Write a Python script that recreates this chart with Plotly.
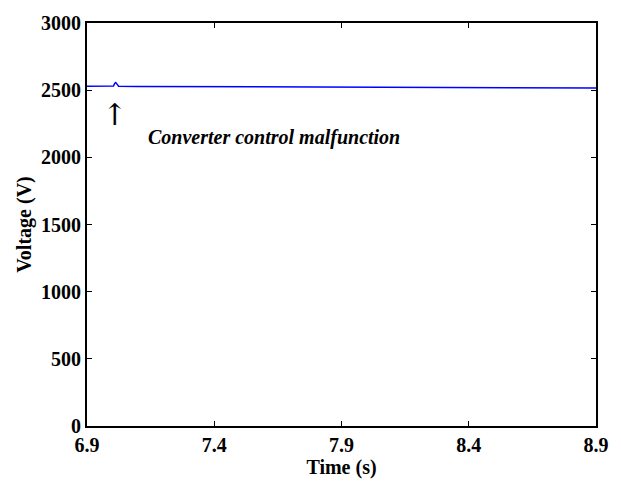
import plotly.graph_objects as go

time_s = [6.9, 7.0, 7.004, 7.009, 7.013, 7.018, 7.024, 7.1, 7.5, 7.9, 8.3, 8.6, 8.9]
voltage_v = [2529, 2529, 2531, 2550, 2557, 2545, 2530, 2528, 2526, 2524, 2521, 2519, 2516]

x_ticks = [6.9, 7.4, 7.9, 8.4, 8.9]
y_ticks = [0, 500, 1000, 1500, 2000, 2500, 3000]

FONT = "Liberation Serif, Times New Roman, serif"

fig = go.Figure()
fig.add_trace(go.Scatter(x=time_s, y=voltage_v, mode="lines",
                         line=dict(color="#0000ff", width=1.5), showlegend=False))

axis_common = dict(showgrid=False, zeroline=False, showline=True, linecolor="black",
                   linewidth=2, mirror="ticks", ticks="inside", ticklen=5,
                   tickwidth=1, tickcolor="black",
                   tickfont=dict(family=FONT, size=20, color="black", weight="bold"))

fig.update_xaxes(range=[6.9, 8.9], tickvals=x_ticks, ticktext=[str(v) for v in x_ticks],
                 title=dict(text="Time (s)", font=dict(family=FONT, size=20, color="black",
                                                       weight="bold"),
                            standoff=0),
                 **axis_common)
fig.update_yaxes(range=[0, 3000], tickvals=y_ticks, ticktext=[str(v) for v in y_ticks],
                 title=dict(text="Voltage (V)", font=dict(family=FONT, size=20, color="black",
                                                          weight="bold"),
                            standoff=4),
                 **axis_common)

fig.add_annotation(x=7.008, y=2320, text="↑", showarrow=False,
                   font=dict(family="DejaVu Serif", size=30, color="black"))
fig.add_annotation(x=7.633, y=2149, text="<i>Converter control malfunction</i>",
                   showarrow=False,
                   font=dict(family=FONT, size=20, color="black", weight="bold"))

fig.update_layout(width=621, height=482, plot_bgcolor="white", paper_bgcolor="white",
                  margin=dict(l=87, r=14, t=19, b=54),
                  font=dict(family=FONT, color="black"))

fig.write_html("out.html")
